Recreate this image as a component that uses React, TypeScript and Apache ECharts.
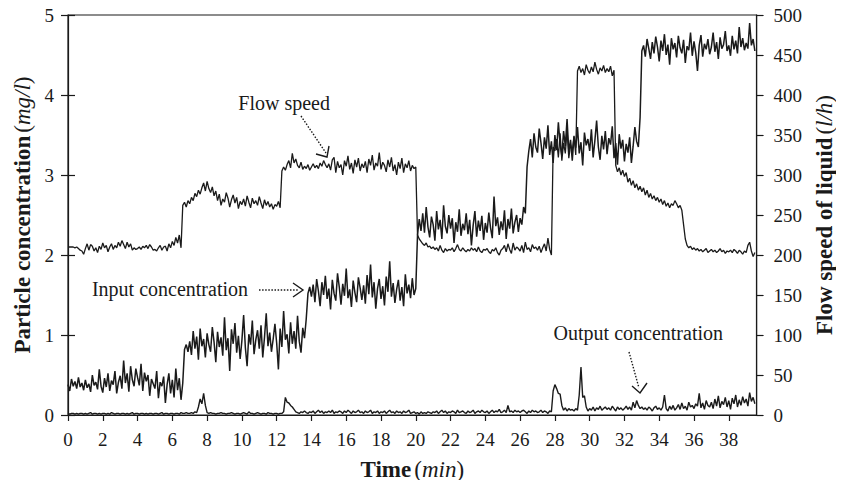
import React, { useEffect, useRef } from "react";
import * as echarts from "echarts";

// Sampling step of the recorded series (minutes)
const TIME_STEP = 0.1;

const TIME_TICKS = [0, 2, 4, 6, 8, 10, 12, 14, 16, 18, 20, 22, 24, 26, 28, 30, 32, 34, 36, 38];
const CONC_TICKS = [0, 1, 2, 3, 4, 5];
const FLOW_TICKS = [0, 50, 100, 150, 200, 250, 300, 350, 400, 450, 500];

// Input particle concentration (mg/l), one row per minute
const INPUT_CONC = [
  0.38, 0.30, 0.45, 0.36, 0.42, 0.33, 0.47, 0.35, 0.40, 0.31,
  0.44, 0.34, 0.39, 0.29, 0.50, 0.37, 0.41, 0.32, 0.57, 0.36,
  0.28, 0.46, 0.35, 0.52, 0.30, 0.43, 0.38, 0.55, 0.27, 0.41,
  0.49, 0.33, 0.68, 0.40, 0.52, 0.29, 0.61, 0.44, 0.36, 0.58,
  0.47, 0.37, 0.64, 0.30, 0.53, 0.42, 0.50, 0.24, 0.45, 0.39,
  0.33, 0.55, 0.21, 0.41, 0.36, 0.48, 0.15, 0.38, 0.52, 0.27,
  0.44, 0.22, 0.58, 0.31, 0.46, 0.19, 0.40, 0.82, 0.88, 0.79,
  0.92, 0.75, 1.05, 0.83, 0.98, 0.69, 1.08, 0.86, 0.95, 0.72,
  1.02, 0.88, 0.79, 1.10, 0.91, 0.66, 1.04, 0.85, 0.97, 0.74,
  1.22, 0.81, 0.96, 0.55, 1.07, 0.89, 1.15, 0.78, 0.99, 0.70,
  0.93, 1.25, 0.84, 0.61, 1.01, 0.88, 1.18, 0.76, 0.94, 1.06,
  0.83, 1.12, 0.72, 0.97, 1.27, 0.86, 1.03, 0.79, 0.95, 1.14,
  0.90, 0.57, 1.08, 0.85, 1.30, 0.94, 1.01, 0.77, 1.16, 0.89,
  1.05, 0.83, 1.24, 0.92, 0.78, 1.09, 0.96, 1.20, 1.52, 1.60,
  1.48, 1.63, 1.41, 1.70, 1.55, 1.36, 1.66, 1.50, 1.74, 1.45,
  1.58, 1.32, 1.69, 1.52, 1.43, 1.77, 1.60, 1.38, 1.64, 1.49,
  1.83, 1.46, 1.57, 1.35, 1.68, 1.53, 1.41, 1.72, 1.59, 1.44,
  1.62, 1.39, 1.75, 1.51, 1.88, 1.47, 1.66, 1.33, 1.58, 1.70,
  1.45, 1.61, 1.37, 1.73, 1.54, 1.92, 1.48, 1.65, 1.40, 1.57,
  1.69, 1.43, 1.60, 1.36, 1.76, 1.52, 1.63, 1.46, 1.71, 1.50,
  1.58, 2.25, 2.45, 2.30, 2.52, 2.28, 2.60, 2.35, 2.22, 2.48,
  2.38, 2.18, 2.55, 2.32, 2.44, 2.20, 2.62, 2.36, 2.27, 2.50,
  2.33, 2.46, 2.15, 2.41, 2.29, 2.57, 2.24, 2.39, 2.31, 2.52,
  2.26, 2.44, 2.12, 2.37, 2.55, 2.23, 2.43, 2.30, 2.49, 2.19,
  2.40, 2.28, 2.53, 2.34, 2.21, 2.73, 2.36, 2.47, 2.25, 2.42,
  2.31, 2.56, 2.20, 2.45, 2.33, 2.58, 2.27, 2.41, 2.50, 2.29,
  2.46, 2.38, 2.60, 2.52, 3.10, 3.30, 3.45, 3.22, 3.52, 3.35,
  3.28, 3.58, 3.40, 3.20, 3.47, 3.33, 3.62, 3.25, 3.42, 3.15,
  3.50, 3.31, 3.66, 3.38, 3.24, 3.55, 3.36, 3.70, 3.29, 3.44,
  3.18, 3.48, 3.34, 3.60, 3.27, 3.41, 3.12, 3.53, 3.37, 3.45,
  3.30, 3.57, 3.22, 3.43, 3.68, 3.35, 3.19, 3.49, 3.32, 3.55,
  3.26, 3.46, 3.38, 3.61, 3.21, 3.40, 3.13, 3.51, 3.33, 3.44,
  3.17, 3.39, 3.28, 3.47, 3.15, 3.36, 3.60, 3.42, 3.35, 3.72,
  4.55, 4.62, 4.48, 4.70, 4.58, 4.45, 4.66, 4.52, 4.73, 4.60,
  4.42, 4.68, 4.55, 4.76, 4.50, 4.63, 4.38, 4.71, 4.57, 4.65,
  4.47, 4.74, 4.59, 4.52, 4.69, 4.40, 4.61, 4.56, 4.78, 4.49,
  4.67, 4.53, 4.30, 4.62, 4.75, 4.48, 4.64, 4.57, 4.70, 4.51,
  4.60, 4.78, 4.54, 4.66, 4.45, 4.72, 4.58, 4.63, 4.80, 4.55,
  4.62, 4.49, 4.74, 4.57, 4.68, 4.52, 4.85, 4.60, 4.71, 4.56,
  4.65, 4.58, 4.90, 4.62, 4.70, 4.55,
];

// Flow speed of liquid (l/h), one row per minute
const FLOW_SPEED = [
  210, 210, 210, 210, 209, 210, 208, 206, 205, 201,
  208, 214, 206, 213, 211, 205, 209, 203, 211, 207,
  215, 209, 212, 204, 210, 214, 207, 212, 209, 216,
  211, 218, 213, 208, 216, 210, 214, 206, 209, 207,
  208, 210, 207, 211, 209, 212, 208, 213, 210, 206,
  207, 205, 209, 212, 206, 210, 211, 205, 214, 209,
  217, 212, 222, 215, 225, 209, 262, 266, 260, 268,
  264, 272, 268, 277, 273, 281, 276, 284, 290, 280,
  292, 283, 278, 285, 274, 280, 268, 276, 262, 270,
  266, 278, 271, 260, 269, 275, 265, 272, 258, 267,
  263, 270, 261, 274, 266, 259, 271, 264, 268, 262,
  273, 265, 258, 269, 262, 267, 260, 264, 257, 263,
  261, 267, 259, 305, 310, 306, 313, 318, 309, 327,
  315, 320, 312, 309, 316, 307, 311, 308, 313, 306,
  310, 314, 309, 312, 308, 315, 311, 318, 313, 309,
  314, 306, 319, 322, 303, 317, 309, 313, 300, 318,
  311, 324, 307, 315, 302, 319, 310, 321, 305, 314,
  309, 317, 303, 320, 312, 325, 306, 315, 311, 328,
  307, 316, 312, 304, 319, 310, 322, 305, 313, 300,
  316, 308, 321, 303, 314, 309, 318, 305, 312, 308,
  310, 225, 220, 217, 214, 212, 215, 210, 211, 208,
  210, 207, 209, 205, 212, 206, 203, 208, 205, 207,
  206, 209, 204, 208, 213, 207, 205, 209, 206, 204,
  207, 205, 209, 206, 208, 204, 210, 205, 203, 207,
  206, 208, 204, 202, 207, 205, 209, 203, 200, 206,
  208, 212, 204, 214, 207, 202, 215, 206, 210, 208,
  205, 212, 203, 216, 207, 209, 204, 213, 208, 210,
  206, 211, 203, 209, 214, 205, 221, 207, 200, 335,
  330, 345, 322, 352, 318, 340, 327, 357, 321, 338,
  330, 349, 325, 430, 436, 428, 433, 425, 438, 431,
  427, 435, 429, 441, 432, 426, 434, 430, 437, 428,
  433, 429, 436, 424, 431, 312, 304, 309, 300, 306,
  298, 303, 291, 296, 287, 293, 284, 289, 281, 286,
  279, 284, 275, 281, 272, 277, 270, 274, 268, 272,
  266, 270, 263, 268, 261, 265, 259, 264, 262, 268,
  264, 259, 262, 256, 238, 220, 212, 209, 211, 207,
  209, 206, 208, 205, 207, 204, 206, 208, 203, 205,
  207, 204, 206, 203, 205, 208, 204, 206, 202, 205,
  204, 206, 203, 207, 205, 202, 206, 204, 201, 205,
  203, 212, 216, 205, 198, 203,
];

// Output particle concentration (mg/l), one row per minute
const OUTPUT_CONC = [
  0.02, 0.01, 0.02, 0.02, 0.01, 0.02, 0.01, 0.02, 0.02, 0.01,
  0.02, 0.01, 0.02, 0.03, 0.01, 0.02, 0.02, 0.01, 0.02, 0.01,
  0.02, 0.02, 0.01, 0.02, 0.01, 0.03, 0.02, 0.01, 0.02, 0.02,
  0.01, 0.02, 0.02, 0.01, 0.02, 0.01, 0.02, 0.03, 0.01, 0.02,
  0.02, 0.01, 0.02, 0.02, 0.01, 0.02, 0.01, 0.02, 0.02, 0.01,
  0.02, 0.02, 0.01, 0.02, 0.03, 0.01, 0.02, 0.02, 0.01, 0.02,
  0.02, 0.01, 0.02, 0.02, 0.01, 0.03, 0.02, 0.02, 0.03, 0.02,
  0.02, 0.03, 0.02, 0.04, 0.03, 0.10, 0.20, 0.14, 0.27, 0.12,
  0.03, 0.02, 0.03, 0.02, 0.02, 0.01, 0.02, 0.02, 0.03, 0.02,
  0.02, 0.01, 0.02, 0.02, 0.03, 0.02, 0.01, 0.02, 0.02, 0.01,
  0.02, 0.03, 0.02, 0.01, 0.04, 0.02, 0.02, 0.01, 0.02, 0.03,
  0.02, 0.01, 0.02, 0.02, 0.01, 0.03, 0.02, 0.02, 0.01, 0.02,
  0.02, 0.01, 0.02, 0.02, 0.04, 0.22, 0.16, 0.15, 0.12, 0.10,
  0.07, 0.04, 0.03, 0.02, 0.04, 0.03, 0.05, 0.03, 0.02, 0.04,
  0.03, 0.05, 0.02, 0.04, 0.06, 0.03, 0.05, 0.02, 0.04, 0.03,
  0.05, 0.03, 0.06, 0.02, 0.04, 0.03, 0.05, 0.04, 0.02, 0.05,
  0.03, 0.06, 0.04, 0.02, 0.05, 0.03, 0.04, 0.06, 0.03, 0.04,
  0.02, 0.05, 0.03, 0.04, 0.06, 0.02, 0.04, 0.03, 0.05, 0.02,
  0.04, 0.03, 0.05, 0.02, 0.04, 0.06, 0.03, 0.04, 0.02, 0.05,
  0.03, 0.04, 0.02, 0.05, 0.03, 0.04, 0.06, 0.02, 0.03, 0.04,
  0.02, 0.03, 0.01, 0.04, 0.02, 0.03, 0.02, 0.04, 0.03, 0.02,
  0.04, 0.03, 0.05, 0.02, 0.04, 0.06, 0.03, 0.05, 0.02, 0.04,
  0.03, 0.05, 0.04, 0.02, 0.06, 0.03, 0.04, 0.05, 0.03, 0.02,
  0.05, 0.03, 0.04, 0.06, 0.02, 0.04, 0.05, 0.03, 0.06, 0.04,
  0.03, 0.05, 0.02, 0.04, 0.06, 0.03, 0.05, 0.04, 0.07, 0.03,
  0.04, 0.06, 0.03, 0.12, 0.04, 0.05, 0.03, 0.06, 0.04, 0.05,
  0.03, 0.05, 0.06, 0.04, 0.02, 0.05, 0.03, 0.06, 0.04, 0.05,
  0.03, 0.04, 0.06, 0.03, 0.05, 0.04, 0.02, 0.05, 0.04, 0.30,
  0.38, 0.33, 0.27, 0.26, 0.12, 0.06, 0.09, 0.05, 0.08, 0.06,
  0.07, 0.05, 0.08, 0.06, 0.25, 0.60, 0.22, 0.24, 0.10, 0.05,
  0.08, 0.06, 0.10, 0.05, 0.09, 0.07, 0.11, 0.06, 0.08, 0.10,
  0.07, 0.09, 0.06, 0.11, 0.08, 0.05, 0.10, 0.07, 0.09, 0.06,
  0.08, 0.11, 0.07, 0.10, 0.06, 0.16, 0.09, 0.18, 0.12, 0.08,
  0.10, 0.07, 0.09, 0.06, 0.10, 0.08, 0.05, 0.09, 0.11, 0.07,
  0.09, 0.06, 0.10, 0.25, 0.08, 0.05, 0.11, 0.07, 0.12, 0.06,
  0.09, 0.13, 0.07, 0.15, 0.08, 0.11, 0.06, 0.16, 0.10, 0.12,
  0.08, 0.14, 0.11, 0.27, 0.09, 0.15, 0.07, 0.18, 0.12, 0.10,
  0.16, 0.08, 0.20, 0.11, 0.24, 0.09, 0.17, 0.13, 0.22, 0.10,
  0.18, 0.07, 0.21, 0.14, 0.25, 0.10, 0.19, 0.12, 0.23, 0.15,
  0.20, 0.11, 0.28, 0.17, 0.22, 0.14,
];

const INK = "#1a1a1a";
const FONT = "'Liberation Serif', 'Times New Roman', serif";

const toPairs = (arr: number[]) =>
  arr.map((v, i) => [Math.round(i * TIME_STEP * 10) / 10, v]);

const titleRich = {
  b: { fontFamily: FONT, fontSize: 23, fontWeight: "bold", color: INK },
  r: { fontFamily: FONT, fontSize: 23, color: INK },
  i: { fontFamily: FONT, fontSize: 23, fontStyle: "italic", color: INK },
};

export default function App() {
  const ref = useRef<HTMLDivElement>(null);

  useEffect(() => {
    if (!ref.current) return;
    const chart = echarts.init(ref.current, undefined, { renderer: "svg" });

    const lineSeries = (name: string, data: number[], yAxisIndex: number, width: number) => ({
      name,
      type: "line",
      yAxisIndex,
      data: toPairs(data),
      showSymbol: false,
      symbol: "none",
      lineStyle: { color: INK, width },
      silent: true,
    });

    const dotted = { stroke: INK, lineWidth: 1.4, lineDash: [1.5, 1.6] };
    const head = { stroke: INK, lineWidth: 1.4, fill: "none" };
    const annText = (text: string, x: number, y: number, align: string) => ({
      type: "text",
      x,
      y,
      style: {
        text,
        fontFamily: FONT,
        fontSize: 20,
        fill: INK,
        textAlign: align,
        textVerticalAlign: "middle",
      },
    });

    chart.setOption({
      animation: false,
      textStyle: { fontFamily: FONT },
      grid: {
        left: 68,
        right: 81,
        top: 15,
        bottom: 73,
        show: true,
        borderColor: INK,
        borderWidth: 1.2,
        backgroundColor: "transparent",
      },
      xAxis: {
        type: "value",
        min: 0,
        max: 39.6,
        interval: 2,
        name: "{b|Time} {r|(}{i|min}{r|)}",
        nameLocation: "middle",
        nameGap: 43,
        nameTextStyle: { rich: titleRich },
        axisLine: { show: true, lineStyle: { color: INK, width: 1.2 } },
        axisTick: {
          show: true,
          inside: false,
          length: 6,
          lineStyle: { color: INK, width: 1.2 },
          customValues: TIME_TICKS,
        },
        axisLabel: {
          customValues: TIME_TICKS,
          fontFamily: FONT,
          fontSize: 19,
          color: INK,
          margin: 15,
        },
        splitLine: { show: false },
      },
      yAxis: [
        {
          type: "value",
          position: "left",
          min: 0,
          max: 5,
          interval: 1,
          name: "{b|Particle concentration} {r|(}{i|mg/l}{r|)}",
          nameLocation: "middle",
          nameGap: 32,
          nameTextStyle: { rich: titleRich },
          axisLine: { show: true, lineStyle: { color: INK, width: 1.2 } },
          axisTick: { show: true, length: 7, lineStyle: { color: INK, width: 1.2 } },
          axisLabel: {
            customValues: CONC_TICKS,
            fontFamily: FONT,
            fontSize: 19,
            color: INK,
            margin: 14,
          },
          splitLine: { show: false },
        },
        {
          type: "value",
          position: "right",
          min: 0,
          max: 500,
          interval: 50,
          name: "{b|Flow speed of liquid} {r|(}{i|l/h}{r|)}",
          nameLocation: "middle",
          nameGap: 54,
          nameTextStyle: { rich: titleRich },
          axisLine: { show: true, lineStyle: { color: INK, width: 1.2 } },
          axisTick: { show: true, length: 7, lineStyle: { color: INK, width: 1.2 } },
          axisLabel: {
            customValues: FLOW_TICKS,
            fontFamily: FONT,
            fontSize: 19,
            color: INK,
            margin: 17,
          },
          splitLine: { show: false },
        },
        {
          type: "value",
          position: "left",
          min: 0,
          max: 5,
          interval: 1,
          axisLine: { show: false },
          axisTick: { show: true, inside: true, length: 7, lineStyle: { color: INK, width: 1.2 } },
          axisLabel: { show: false },
          splitLine: { show: false },
        },
      ],
      series: [
        lineSeries("Flow speed", FLOW_SPEED, 1, 1.3),
        lineSeries("Input concentration", INPUT_CONC, 0, 1.5),
        lineSeries("Output concentration", OUTPUT_CONC, 0, 1.4),
      ],
      graphic: [
        annText("Flow speed", 330, 103, "right"),
        { type: "line", shape: { x1: 301, y1: 116, x2: 326, y2: 153 }, style: dotted },
        { type: "polyline", shape: { points: [[316, 154], [327, 157], [329, 146]] }, style: head },

        annText("Input concentration", 248, 289, "right"),
        { type: "line", shape: { x1: 259, y1: 290, x2: 299, y2: 290 }, style: dotted },
        { type: "polyline", shape: { points: [[293, 283], [303, 290], [293, 297]] }, style: head },

        annText("Output concentration", 723, 333, "right"),
        { type: "line", shape: { x1: 629, y1: 352, x2: 639, y2: 388 }, style: dotted },
        { type: "polyline", shape: { points: [[632, 386], [640, 393], [647, 383]] }, style: head },
      ],
    });

    return () => chart.dispose();
  }, []);

  return <div ref={ref} style={{ width: 844, height: 488, margin: -8 }} />;
}
